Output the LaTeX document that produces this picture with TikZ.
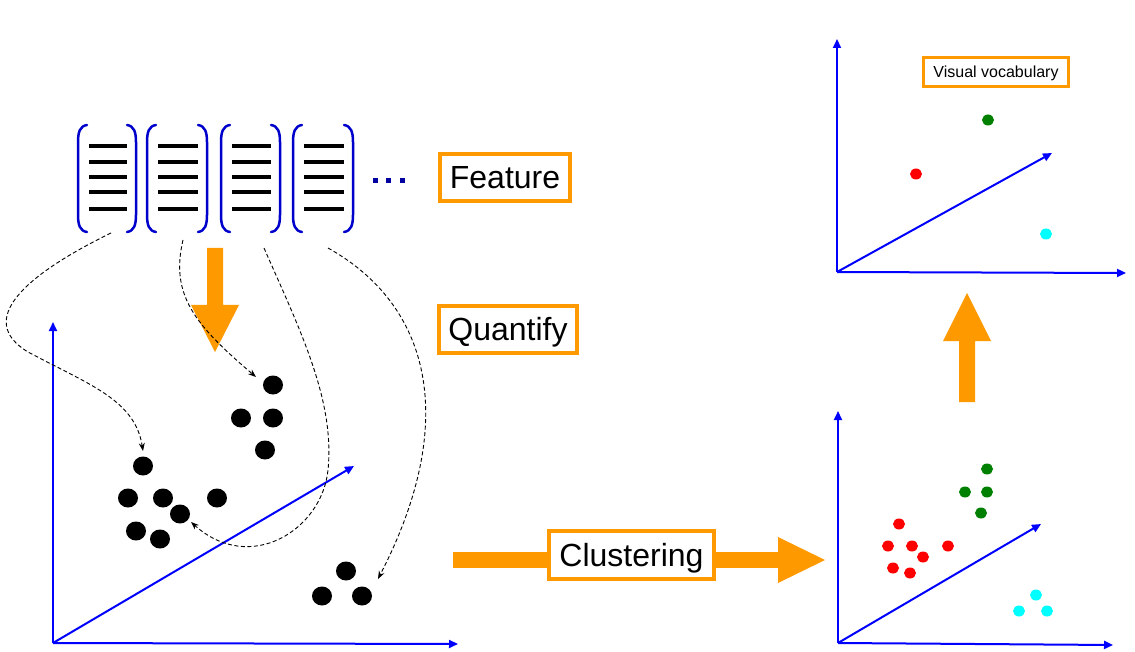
\documentclass[tikz,border=0pt]{standalone}
\usepackage{fontspec}
\setmainfont{Liberation Sans}
\usetikzlibrary{arrows.meta,shapes.geometric}
\definecolor{orng}{RGB}{255,153,0}
\definecolor{axblue}{RGB}{0,0,255}
\definecolor{brblue}{RGB}{0,0,204}
\definecolor{dotblue}{RGB}{0,0,160}
\definecolor{dgreen}{RGB}{0,128,0}
\definecolor{cyanpt}{RGB}{0,255,255}
\definecolor{redpt}{RGB}{255,0,0}
\begin{document}
\begin{tikzpicture}[x=1pt,y=-1pt,
  axis/.style={draw=axblue, line width=2pt, -{Triangle[length=9pt,width=8pt]}},
  bdot/.style={ellipse, fill=black, minimum width=20pt, minimum height=19pt, inner sep=0pt},
  cdot/.style={ellipse, minimum width=12pt, minimum height=11pt, inner sep=0pt},
  lbl/.style={draw=orng, line width=3.5pt, fill=white, inner sep=0pt, text height=23pt, text depth=0pt, font=\fontsize{32}{38}\selectfont},
  brk/.style={draw=brblue, line width=2.5pt, line cap=round},
  fline/.style={line width=4pt, black},
  link/.style={draw=black, line width=0.9pt, dash pattern=on 4pt off 2.5pt, -{Stealth[length=8pt,width=6pt]}},
  blockarrow/.style={fill=orng}]
\useasboundingbox[fill=white] (0,0) rectangle (1135,652);

% ---- feature vectors
\foreach \l/\r in {78/136,147/207,221/280,293/353}{
  \draw[brk] ({\l+9},125) .. controls ({\l+2},126) and (\l,132) .. (\l,142) -- (\l,215) .. controls (\l,225) and ({\l+2},231) .. ({\l+9},232);
  \draw[brk] ({\r-9},125) .. controls ({\r-2},126) and (\r,132) .. (\r,142) -- (\r,215) .. controls (\r,225) and ({\r-2},231) .. ({\r-9},232);
  \foreach \y in {146,162,177,192,209}
    \draw[fline] ({\l+11},\y) -- ({\r-9},\y);
}
\foreach \x in {375,388,402}
  \fill[dotblue] ({\x-2.5},178.5) rectangle ++(5,5);

% ---- labels
\node[lbl, minimum width=130pt, minimum height=47pt] (feat) at (505,177.5) {Feature};
\node[lbl, minimum width=138pt, minimum height=47pt] (quant) at (508,329.5) {Quantify};
\node[lbl, line width=3pt, minimum width=145pt, minimum height=29pt, text height=11.5pt, font=\fontsize{16}{19}\selectfont] (vocab) at (996,72) {Visual vocabulary};

% ---- left axes
\coordinate (O1) at (53,643);
\coordinate (Y1) at (53,322);
\coordinate (X1) at (458,644);
\coordinate (Z1) at (354,466);
\draw[axis] (O1) -- (Y1);
\draw[axis] (O1) -- (X1);
\draw[axis] (O1) -- (Z1);

% ---- black points
\node[bdot] (a1) at (273,385) {};
\node[bdot] (a2) at (241,418) {};
\node[bdot] (a3) at (273,418) {};
\node[bdot] (a4) at (265,450) {};
\node[bdot] (b1) at (143,466) {};
\node[bdot] (b2) at (128,498) {};
\node[bdot] (b3) at (163,498) {};
\node[bdot] (b4) at (217,498) {};
\node[bdot] (b5) at (180,514) {};
\node[bdot] (b6) at (136,531) {};
\node[bdot] (b7) at (160,539) {};
\node[bdot] (c1) at (346,571) {};
\node[bdot] (c2) at (322,596) {};
\node[bdot] (c3) at (362,596) {};

% ---- orange down arrow
\fill[blockarrow] (207,248) -- (223,248) -- (223,305) -- (239,305) -- (215,352) -- (191,305) -- (207,305) -- cycle;

% ---- dashed links
\coordinate (s1) at (111,233);
\coordinate (s2) at (183,240);
\coordinate (s3) at (264,248);
\coordinate (s4) at (328,248);
\coordinate (e1) at (143,451);
\coordinate (e2) at (256,377);
\coordinate (e3) at (191,522);
\coordinate (e4) at (378,579);
\draw[link] (s1) .. controls (25,275) and (-25,320) .. (28,352) .. controls (90,385) and (135,400) .. (e1);
\draw[link] (s2) .. controls (170,295) and (195,325) .. (e2);
\draw[link] (s3) .. controls (300,330) and (335,400) .. (328,470) .. controls (322,530) and (250,575) .. (e3);
\draw[link] (s4) .. controls (430,305) and (460,420) .. (e4);

% ---- clustering arrow
\fill[blockarrow] (453,552) rectangle (779,568);
\fill[blockarrow] (778,537) -- (825,560) -- (778,583) -- cycle;
\node[lbl, minimum width=165pt, minimum height=48pt] (clus) at (631.5,555) {Clustering};

% ---- bottom right axes
\coordinate (O2) at (838,643);
\coordinate (Y2) at (838,411);
\coordinate (X2) at (1113,645);
\coordinate (Z2) at (1041,524);
\draw[axis] (O2) -- (Y2);
\draw[axis] (O2) -- (X2);
\draw[axis] (O2) -- (Z2);
\node[cdot, fill=redpt] (r1) at (899,524) {};
\node[cdot, fill=redpt] (r2) at (888,546) {};
\node[cdot, fill=redpt] (r3) at (912,546) {};
\node[cdot, fill=redpt] (r4) at (948,546) {};
\node[cdot, fill=redpt] (r5) at (923,557) {};
\node[cdot, fill=redpt] (r6) at (893,568) {};
\node[cdot, fill=redpt] (r7) at (910,573) {};
\node[cdot, fill=dgreen] (g1) at (987,469) {};
\node[cdot, fill=dgreen] (g2) at (965,492) {};
\node[cdot, fill=dgreen] (g3) at (987,492) {};
\node[cdot, fill=dgreen] (g4) at (981,513) {};
\node[cdot, fill=cyanpt] (k1) at (1036,595) {};
\node[cdot, fill=cyanpt] (k2) at (1019,611) {};
\node[cdot, fill=cyanpt] (k3) at (1047,611) {};

% ---- up arrow
\fill[blockarrow] (959,402) -- (975,402) -- (975,341) -- (991,341) -- (967,293) -- (943,341) -- (959,341) -- cycle;

% ---- top right axes
\coordinate (O3) at (837,272);
\coordinate (Y3) at (837,39);
\coordinate (X3) at (1126,273);
\coordinate (Z3) at (1052,153);
\draw[axis] (O3) -- (Y3);
\draw[axis] (O3) -- (X3);
\draw[axis] (O3) -- (Z3);
\node[cdot, fill=dgreen] (vg) at (988,120) {};
\node[cdot, fill=redpt] (vr) at (916,174) {};
\node[cdot, fill=cyanpt] (vc) at (1046,234) {};
\end{tikzpicture}
\end{document}
